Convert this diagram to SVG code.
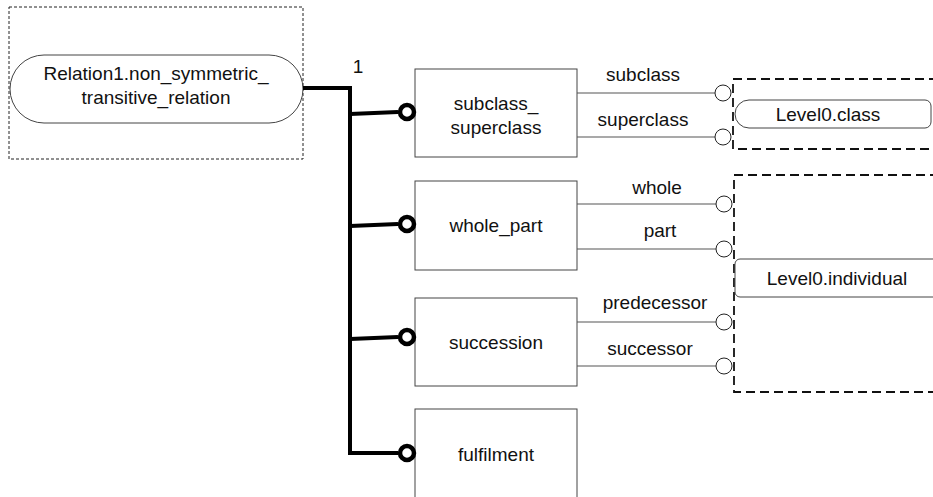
<svg xmlns="http://www.w3.org/2000/svg" width="933" height="497" viewBox="0 0 933 497">
<style>
text{font-family:"Liberation Sans",Arial,sans-serif;font-size:19px;fill:#111;text-anchor:middle}
.box{fill:#fff;stroke:#444;stroke-width:1}
.scope{fill:none;stroke:#222;stroke-width:1;stroke-dasharray:3 2}
.scope2{fill:none;stroke:#111;stroke-width:1.8;stroke-dasharray:9 5}
.ent{fill:#fff;stroke:#444;stroke-width:1}
.thick{fill:none;stroke:#000;stroke-width:4;stroke-linejoin:miter}
.thin{fill:none;stroke:#555;stroke-width:1.2}
.pin{fill:#fff;stroke:#000;stroke-width:4.5}
.port{fill:#fff;stroke:#222;stroke-width:1}
</style>
<g id="relation1">
<rect class="scope" x="9" y="7" width="294" height="152"/>
<rect class="ent" x="10" y="55" width="293" height="68" rx="34" ry="34"/>
<text x="156" y="80">Relation1.non_symmetric_</text>
<text x="156" y="104">transitive_relation</text>
</g>
<g id="level0class">
<rect class="scope2" x="733" y="79" width="210" height="70"/>
<path class="ent" d="M749,100 H925 A6,6 0 0 1 931,106 V122 A6,6 0 0 1 925,128 H749 A14,14 0 0 1 749,100 Z"/>
<text x="828" y="121">Level0.class</text>
</g>
<g id="level0individual">
<rect class="scope2" x="734" y="175" width="210" height="217"/>
<rect class="ent" x="735" y="259" width="220" height="38" rx="5" ry="5"/>
<text x="837" y="285">Level0.individual</text>
</g>
<g id="subclass_superclass">
<rect class="box" x="415" y="69" width="162" height="88"/>
<text x="496" y="110">subclass_</text>
<text x="496" y="134">superclass</text>
</g>
<g id="whole_part">
<rect class="box" x="415" y="181" width="162" height="89"/>
<text x="496" y="232">whole_part</text>
</g>
<g id="succession">
<rect class="box" x="415" y="298" width="162" height="88"/>
<text x="496" y="349">succession</text>
</g>
<g id="fulfilment">
<rect class="box" x="415" y="409" width="162" height="100"/>
<text x="496" y="461">fulfilment</text>
</g>
<g id="connectors">
<path class="thick" d="M303,88 H350 V453 H398"/>
<path class="thick" d="M350,114 L398,112"/>
<path class="thick" d="M350,226 L398,224"/>
<path class="thick" d="M350,339 L398,337"/>
<circle class="pin" cx="407" cy="112" r="7"/>
<circle class="pin" cx="407" cy="224" r="7"/>
<circle class="pin" cx="407" cy="337" r="7"/>
<circle class="pin" cx="407" cy="453" r="7"/>
<text x="358" y="73">1</text>
<path class="thin" d="M577,93 H715 M577,137 H715 M577,204 H716 M577,249 H716 M577,322 H716 M577,366 H716"/>
<circle class="port" cx="723" cy="93" r="8"/>
<circle class="port" cx="723" cy="137" r="8"/>
<circle class="port" cx="724" cy="204" r="8"/>
<circle class="port" cx="724" cy="249" r="8"/>
<circle class="port" cx="724" cy="322" r="8"/>
<circle class="port" cx="724" cy="366" r="8"/>
<text x="643" y="81">subclass</text>
<text x="643" y="126">superclass</text>
<text x="657" y="194">whole</text>
<text x="660" y="237">part</text>
<text x="655" y="309">predecessor</text>
<text x="650" y="355">successor</text>
</g>
</svg>
